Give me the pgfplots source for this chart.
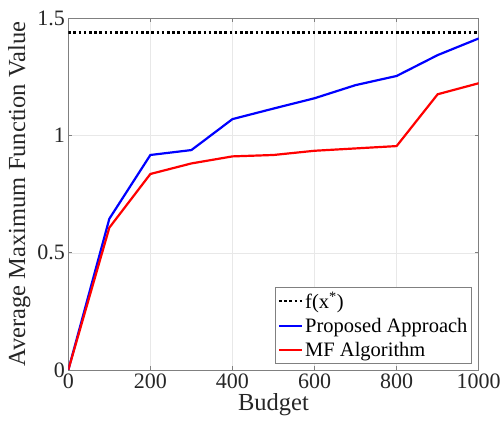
\documentclass[border=0pt]{standalone}
\usepackage{fontspec}
\setmainfont{Liberation Serif}
\usepackage{pgfplots}
\pgfplotsset{compat=1.18}
\definecolor{axgray}{gray}{0.5}
\definecolor{txt}{gray}{0.15}
\begin{document}
\begin{tikzpicture}
\useasboundingbox (-68.3pt,-57pt) rectangle (432.7pt,370pt);
\begin{axis}[
  at={(0,0)}, anchor=south west,
  scale only axis, width=410.4pt, height=351.7pt,
  xmin=0, xmax=1000, ymin=0, ymax=1.5,
  xtick={0,200,400,600,800,1000},
  xticklabels={0,200,400,600,800,1000},
  ytick={0,0.5,1,1.5},
  yticklabels={0,0.5,1,1.5},
  grid=major,
  major grid style={gray!18, line width=0.5pt},
  axis line style={axgray, line width=0.6pt},
  tick style={axgray, line width=0.6pt},
  tick align=inside, major tick length=4pt,
  ticklabel style={font=\fontsize{22}{26}\selectfont, text=txt},
  xlabel={Budget},
  ylabel={Average Maximum Function Value},
  label style={font=\fontsize{24.5}{28}\selectfont, text=txt},
  xlabel style={yshift=2pt},
  legend style={at={(axis description cs:1,0)}, anchor=south east,
    xshift=-7pt, yshift=7pt, draw=axgray, fill=white,
    font=\fontsize{20.5}{22}\selectfont, text=black,
    inner xsep=2pt, inner ysep=3pt, row sep=4pt},
  legend cell align=left,
  legend image code/.code={\draw[#1] (0pt,0pt) -- (23pt,0pt);},
]
\addplot[black, line width=2.6pt, dash pattern=on 2.6pt off 2.6pt] coordinates {(0,1.44) (1000,1.44)};
\addlegendentry{f(x\textsuperscript{*})}
\addplot[blue, line width=2.2pt] coordinates {
(0,0) (100,0.645) (200,0.917) (300,0.938) (400,1.070) (500,1.115)
(600,1.159) (700,1.215) (800,1.254) (900,1.343) (1000,1.414)};
\addlegendentry{Proposed Approach}
\addplot[red, line width=2.2pt] coordinates {
(0,0) (100,0.607) (200,0.836) (300,0.881) (400,0.911) (500,0.917)
(600,0.935) (700,0.945) (800,0.955) (900,1.176) (1000,1.223)};
\addlegendentry{MF Algorithm}
\end{axis}
\end{tikzpicture}
\end{document}
